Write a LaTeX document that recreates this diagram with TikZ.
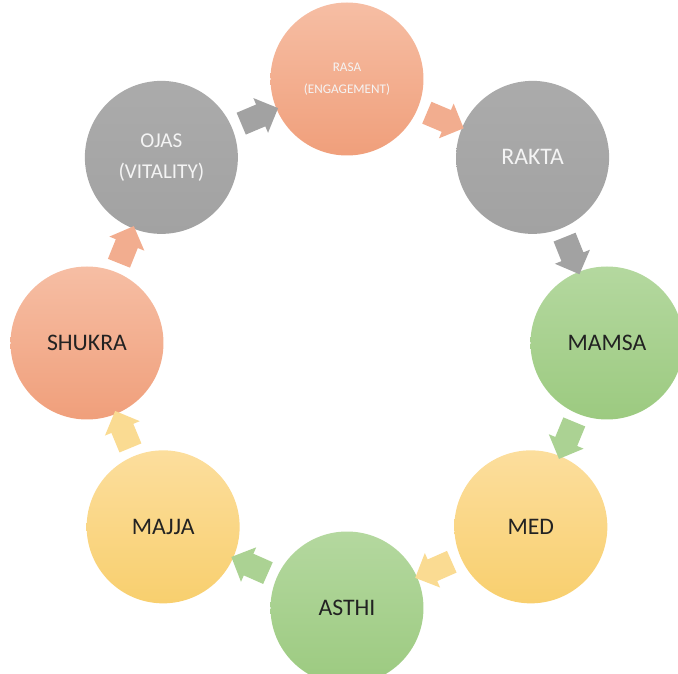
\documentclass[tikz,border=0pt]{standalone}
\usepackage{fontspec}
\setmainfont{Carlito}
\usetikzlibrary{shapes.arrows}
\definecolor{rasatop}{HTML}{F6BEA4}
\definecolor{rasabot}{HTML}{F09F7B}
\definecolor{greytop}{HTML}{ABABAB}
\definecolor{greybot}{HTML}{A2A2A2}
\definecolor{greentop}{HTML}{B4D89F}
\definecolor{greenbot}{HTML}{9CCA80}
\definecolor{yellowtop}{HTML}{FCDE9D}
\definecolor{yellowbot}{HTML}{F8CF6E}
\definecolor{darktext}{HTML}{222222}
\definecolor{lighttext}{HTML}{F4F4F4}

\begin{document}
\begin{tikzpicture}[
    dhatu/.style={circle, minimum size=3.06cm, inner sep=0pt, align=center, text=darktext, font=\fontsize{13.5}{16}\selectfont},
    orangeball/.style={dhatu, top color=rasatop, bottom color=rasabot},
    greyball/.style={dhatu, top color=greytop, bottom color=greybot, text=lighttext},
    greenball/.style={dhatu, top color=greentop, bottom color=greenbot},
    yellowball/.style={dhatu, top color=yellowtop, bottom color=yellowbot},
    flow/.style={single arrow, draw=none, inner xsep=0pt, inner ysep=0.23cm, minimum height=0.8cm, single arrow head extend=0.14cm, sloped, allow upside down}
  ]
    \useasboundingbox (-6.94, -6.62) rectangle (6.62, 6.86);
    \node [orangeball, text=lighttext, font=\fontsize{7.5}{12.5}\selectfont] (rasa) at (90:5.28) {RASA\\(ENGAGEMENT)};
    \node [greyball] (rakta) at (45:5.25) {RAKTA};
    \node [greenball] (mamsa) at (0:5.2) {MAMSA};
    \node [yellowball] (med) at (-45:5.2) {MED};
    \node [greenball] (asthi) at (-90:5.3) {ASTHI};
    \node [yellowball] (majja) at (-135:5.2) {MAJJA};
    \node [orangeball] (shukra) at (180:5.2) {SHUKRA};
    \node [greyball, font=\fontsize{12}{17.5}\selectfont] (ojas) at (135:5.25) {OJAS\\(VITALITY)};
    \path (ojas) to node [flow, fill=greybot] {} (rasa);
    \path (rasa) to node [flow, fill=rasabot!85!white] {} (rakta);
    \path (rakta) to node [flow, fill=greybot] {} (mamsa);
    \path (mamsa) to node [flow, fill=greenbot!85!white] {} (med);
    \path (med) to node [flow, fill=yellowbot!75!white] {} (asthi);
    \path (asthi) to node [flow, fill=greenbot!85!white] {} (majja);
    \path (majja) to node [flow, fill=yellowbot!75!white] {} (shukra);
    \path (shukra) to node [flow, fill=rasabot!85!white] {} (ojas);
  \end{tikzpicture}
\end{document}
